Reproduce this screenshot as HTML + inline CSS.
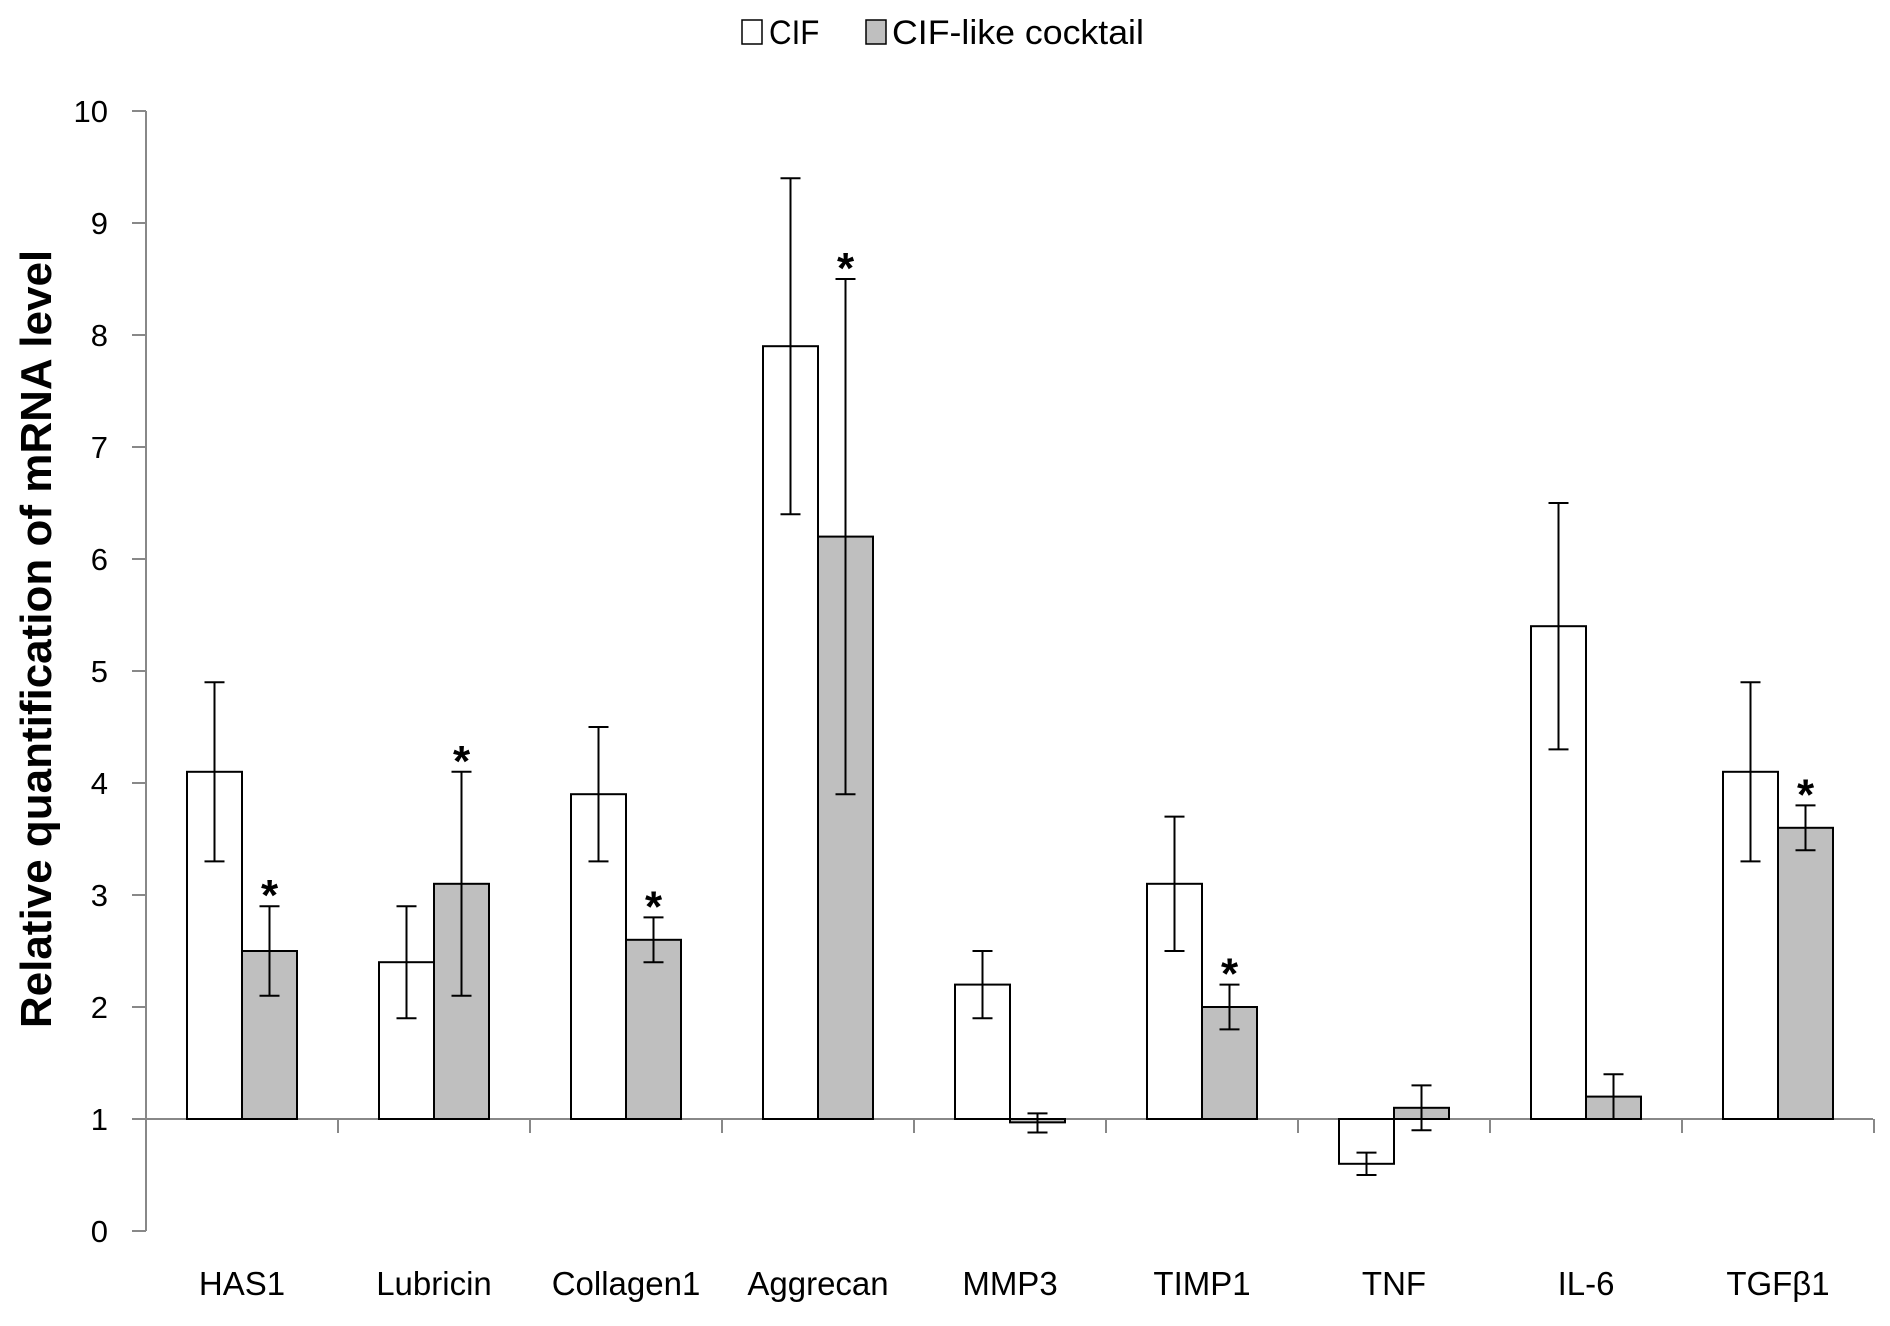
<!DOCTYPE html>
<html><head><meta charset="utf-8"><style>
body{margin:0;background:#fff}
svg text{font-family:"Liberation Sans",sans-serif}
</style></head><body>
<svg id="c" width="1890" height="1321" xmlns="http://www.w3.org/2000/svg">
<g id="legend">
 <rect x="742" y="20" width="20" height="24" fill="#fff" stroke="#000" stroke-width="1.5"/>
 <text x="769" y="44" font-size="34" transform="translate(769,0) scale(0.92,1) translate(-769,0)">CIF</text>
 <rect x="866" y="20" width="20" height="24" fill="#bfbfbf" stroke="#000" stroke-width="1.5"/>
 <text x="892" y="44" font-size="34" transform="translate(892,0) scale(1.05,1) translate(-892,0)">CIF-like cocktail</text>
</g>
<text x="0" y="0" font-size="44" font-weight="bold" text-anchor="middle" transform="translate(36,639) rotate(-90) translate(0,15)">Relative quantification of mRNA level</text>
<g id="axes"></g><g id="bars"></g>
</svg>
<script>
const categories=["HAS1","Lubricin","Collagen1","Aggrecan","MMP3","TIMP1","TNF","IL-6","TGFβ1"];
const cifValues=[4.1,2.4,3.9,7.9,2.2,3.1,0.6,5.4,4.1];
const cifHigh=[4.9,2.9,4.5,9.4,2.5,3.7,0.7,6.5,4.9];
const cifLow=[3.3,1.9,3.3,6.4,1.9,2.5,0.5,4.3,3.3];
const cocktailValues=[2.5,3.1,2.6,6.2,0.97,2.0,1.1,1.2,3.6];
const cocktailHigh=[2.9,4.1,2.8,8.5,1.05,2.2,1.3,1.4,3.8];
const cocktailLow=[2.1,2.1,2.4,3.9,0.88,1.8,0.9,1.0,3.4];
const significant=[true,true,true,true,false,true,false,false,true];
const yTicks=[0,1,2,3,4,5,6,7,8,9,10];
const NS="http://www.w3.org/2000/svg";
const x0=146,catW=192,y0=1231,unit=112,barW=55,off=41,base=1;
const y=v=>y0-v*unit;
const xc=i=>x0+i*catW;
function mk(tag,attrs,parent,txt){const e=document.createElementNS(NS,tag);for(const k in attrs)e.setAttribute(k,attrs[k]);if(txt!==undefined)e.textContent=txt;parent.appendChild(e);return e;}
const ax=document.getElementById('axes'),bg=document.getElementById('bars');
let e=mk('line',{x1:x0,y1:y(0),x2:x0,y2:y(10),stroke:'#888','stroke-width':2},ax);


yTicks.forEach(t=>{
 let l=mk('line',{x1:x0-14,y1:y(t),x2:x0,y2:y(t),stroke:'#888','stroke-width':2},ax);
 
 
 let tx=mk('text',{x:108,y:y(t)+11,'font-size':31,'text-anchor':'end'},ax,String(t));
 
 
});
for(let i=0;i<=categories.length;i++){
 let l=mk('line',{x1:xc(i),y1:y(base),x2:xc(i),y2:y(base)+14,stroke:'#888','stroke-width':2},ax);
 
 
}
categories.forEach((c,i)=>{
 let t=mk('text',{x:xc(i)+catW/2,y:1295,'font-size':33,'text-anchor':'middle'},ax,c);
 
 
 const series=[[cifValues,cifHigh,cifLow,'#fff','cif'],[cocktailValues,cocktailHigh,cocktailLow,'#bfbfbf','cocktail']];
 series.forEach((s,j)=>{
  const v=s[0][i],bx=xc(i)+off+j*barW;
  const top=Math.min(y(v),y(base)),h=Math.abs(y(v)-y(base));
  let r=mk('rect',{x:bx,y:top,width:barW,height:h,fill:s[3],stroke:'#000','stroke-width':2},bg);
  
  
  const cx=bx+barW/2,hi=y(s[1][i]),lo=y(s[2][i]);
  let g=mk('g',{stroke:'#000','stroke-width':2},bg);
  
  
  mk('line',{x1:cx,y1:hi,x2:cx,y2:lo},g);
  mk('line',{x1:cx-10,y1:hi,x2:cx+10,y2:hi},g);
  mk('line',{x1:cx-10,y1:lo,x2:cx+10,y2:lo},g);
  if(j===1&&significant[i]){
   let st=mk('text',{x:cx,y:hi+4,'font-size':44,'font-weight':'bold','text-anchor':'middle'},bg,'*');
   
   
  }
 });
});
e=mk('line',{x1:x0-14,y1:y(base),x2:1873,y2:y(base),stroke:'#888','stroke-width':2},ax);


</script>
</body></html>
